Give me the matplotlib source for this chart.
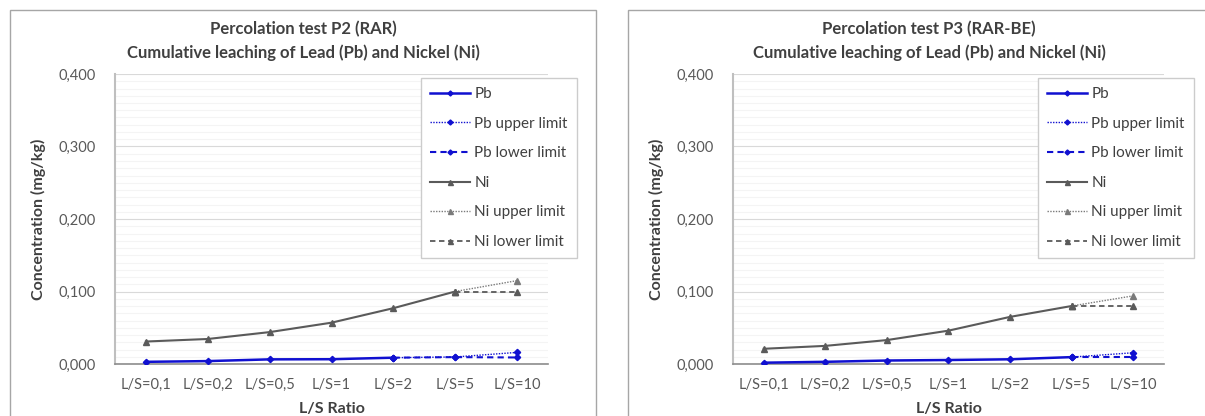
import numpy as np
import matplotlib.pyplot as plt
from matplotlib.patches import Rectangle
from matplotlib.ticker import FuncFormatter, MultipleLocator

plt.rcParams['font.family'] = ['Lato', 'DejaVu Sans']

nan = np.nan
categories = ['L/S=0,1', 'L/S=0,2', 'L/S=0,5', 'L/S=1', 'L/S=2', 'L/S=5', 'L/S=10']

# P2 (RAR)
pb_p2 = [0.003, 0.004, 0.0064, 0.0066, 0.0087, nan, nan]
pb_p2_upper = [nan, nan, nan, nan, 0.0087, 0.0097, 0.016]
pb_p2_lower = [nan, nan, nan, nan, 0.0087, 0.0095, 0.009]
ni_p2 = [0.031, 0.0345, 0.044, 0.057, 0.077, 0.100, nan]
ni_p2_upper = [nan, nan, nan, nan, nan, 0.100, 0.115]
ni_p2_lower = [nan, nan, nan, nan, nan, 0.100, 0.100]

# P3 (RAR-BE)
pb_p3 = [0.0018, 0.003, 0.0048, 0.0055, 0.0065, 0.0095, nan]
pb_p3_upper = [nan, nan, nan, nan, nan, 0.0095, 0.0155]
pb_p3_lower = [nan, nan, nan, nan, nan, 0.0095, 0.0095]
ni_p3 = [0.021, 0.025, 0.033, 0.046, 0.065, 0.080, nan]
ni_p3_upper = [nan, nan, nan, nan, nan, 0.080, 0.094]
ni_p3_lower = [nan, nan, nan, nan, nan, 0.080, 0.080]

titles = ['Percolation test P2 (RAR)\nCumulative leaching of Lead (Pb) and Nickel (Ni)',
          'Percolation test P3 (RAR-BE)\nCumulative leaching of Lead (Pb) and Nickel (Ni)']

PB = '#1010d0'
NI = '#5a5a5a'
W, H = 1205, 416

fig = plt.figure(figsize=(W / 100, H / 100), dpi=100)


def fx(px):
    return px / W


def fy(py):
    return 1 - py / H


def panel(x0, x1, ax_x0, ax_x1, title, series, leg_x):
    fig.patches.append(Rectangle((fx(x0), fy(430)), fx(x1 - x0), fy(10) - fy(430),
                                 transform=fig.transFigure, fill=False,
                                 edgecolor='#a6a6a6', lw=1.0))
    ax = fig.add_axes([fx(ax_x0), fy(364), fx(ax_x1 - ax_x0), fy(74) - fy(364)])
    pb, pb_up, pb_lo, ni, ni_up, ni_lo = series
    x = np.arange(len(categories))
    ax.plot(x, pb, color=PB, lw=1.8, marker='D', ms=3.2, label='Pb', zorder=4)
    ax.plot(x, pb_up, color=PB, lw=1.0, ls=(0, (1, 1)), marker='D', ms=3.2,
            label='Pb upper limit', zorder=4)
    ax.plot(x, pb_lo, color=PB, lw=1.5, ls=(0, (3, 2)), marker='D', ms=3.2,
            label='Pb lower limit', zorder=4)
    ax.plot(x, ni, color=NI, lw=1.5, marker='^', ms=4.5, label='Ni', zorder=3)
    ax.plot(x, ni_up, color='#7a7a7a', lw=1.0, ls=(0, (1, 1)), marker='^', ms=4.5,
            label='Ni upper limit', zorder=3)
    ax.plot(x, ni_lo, color=NI, lw=1.3, ls=(0, (3, 2)), marker='^', ms=4.5,
            label='Ni lower limit', zorder=3)

    ax.set_xlim(-0.5, len(categories) - 0.5)
    ax.set_ylim(0, 0.4)
    ax.set_xticks(x)
    ax.set_xticklabels(categories)
    ax.yaxis.set_major_locator(MultipleLocator(0.1))
    ax.yaxis.set_minor_locator(MultipleLocator(0.01))
    ax.yaxis.set_major_formatter(FuncFormatter(lambda v, p: f'{v:.3f}'.replace('.', ',')))
    ax.grid(axis='y', which='major', color='#d9d9d9', lw=0.8)
    ax.grid(axis='y', which='minor', color='#f4f4f4', lw=0.8)
    ax.set_axisbelow(True)
    for s in ['top', 'right']:
        ax.spines[s].set_visible(False)
    ax.spines['left'].set_color('#bfbfbf')
    ax.spines['left'].set_linewidth(1.5)
    ax.spines['bottom'].set_color('#8c8c8c')
    ax.spines['bottom'].set_linewidth(1.2)
    ax.tick_params(axis='both', which='both', length=0, colors='#595959', labelsize=10.5)
    ax.tick_params(axis='y', pad=14)
    ax.tick_params(axis='x', pad=10)

    ax.set_xlabel('L/S Ratio', fontsize=11.5, fontweight='bold', color='#404040', labelpad=7)
    ax.set_ylabel('Concentration (mg/kg)', fontsize=11.5, fontweight='bold', color='#404040',
                  labelpad=9)
    fig.text(fx((x0 + x1) / 2), fy(41), title, ha='center', va='center', fontsize=12,
             fontweight='bold', color='#404040', linespacing=1.5)

    leg = ax.legend(loc='upper left', bbox_to_anchor=(fx(leg_x), fy(78)),
                    bbox_transform=fig.transFigure, fontsize=11, frameon=True,
                    fancybox=False, edgecolor='#cccccc', framealpha=1.0,
                    handlelength=2.6, handletextpad=0.3, labelspacing=1.02,
                    borderpad=0.6, borderaxespad=0, markerscale=0.8)
    for t in leg.get_texts():
        t.set_color('#404040')
    return ax


panel(10, 596, 115, 548, titles[0],
      [pb_p2, pb_p2_upper, pb_p2_lower, ni_p2, ni_p2_upper, ni_p2_lower], 421)
panel(628, 1230, 733, 1164, titles[1],
      [pb_p3, pb_p3_upper, pb_p3_lower, ni_p3, ni_p3_upper, ni_p3_lower], 1038)

fig.savefig('out.png', dpi=100)
